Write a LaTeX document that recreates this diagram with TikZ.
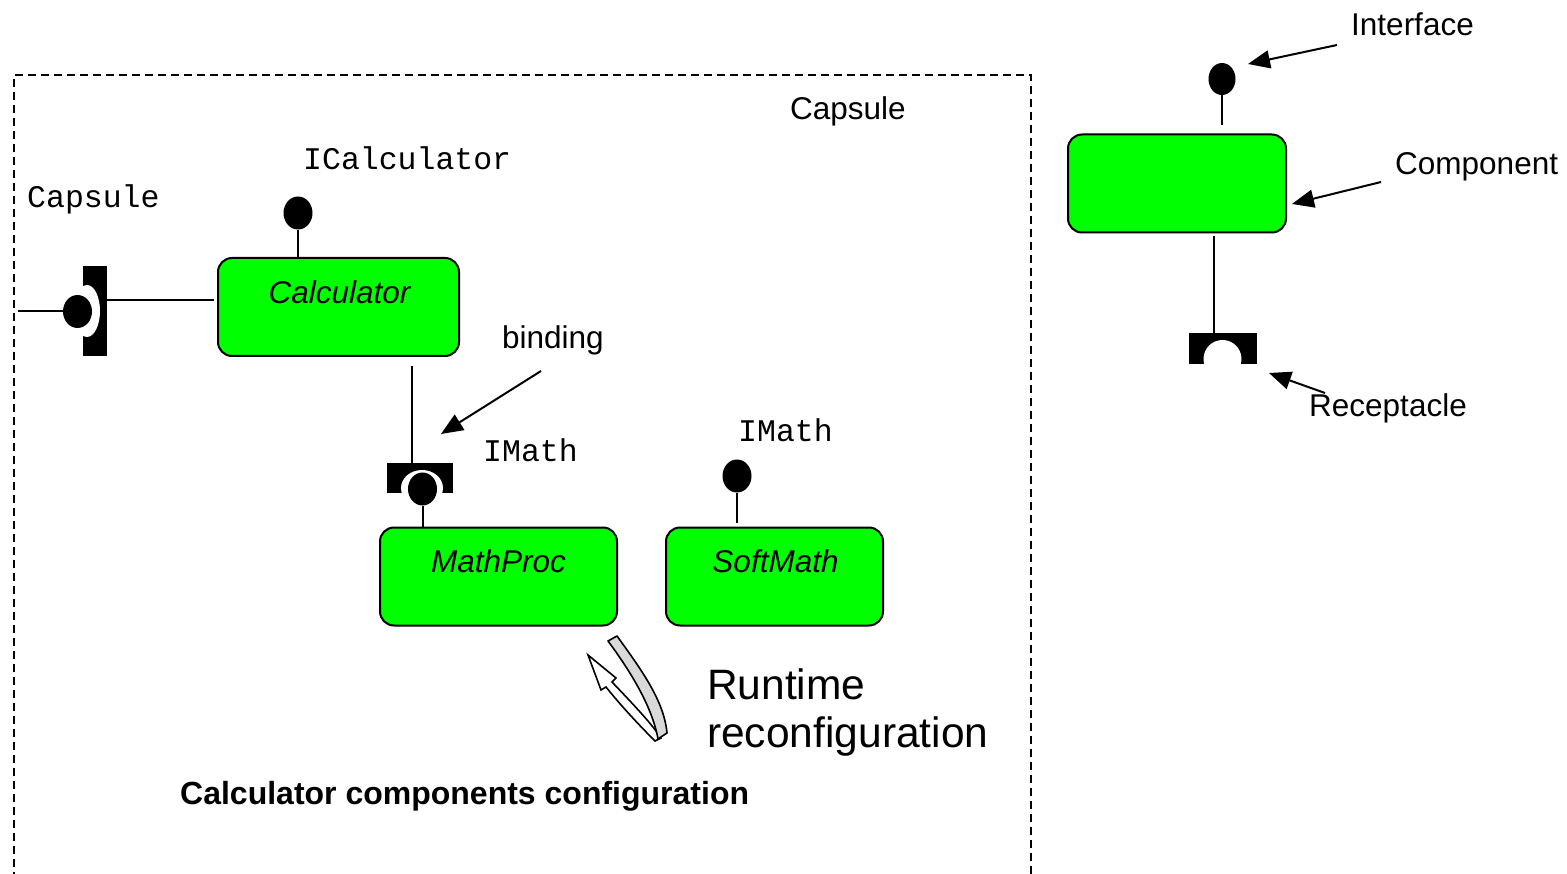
\documentclass[tikz,border=0pt]{standalone}
\usepackage{fontspec}
\setmainfont{Liberation Sans}
\setmonofont{Liberation Mono}
\usetikzlibrary{arrows.meta,shapes.geometric}

\definecolor{compgreen}{HTML}{00FF00}
\definecolor{bandgray}{HTML}{D9D9D9}

\tikzset{
  comp/.style={draw=black, line width=2pt, fill=compgreen, rounded corners=14pt,
    minimum width=#1, minimum height=98pt, inner sep=0pt},
  ball/.style={ellipse, fill=black, inner sep=0pt, minimum width=29pt, minimum height=33pt},
  sock/.style={fill=black, inner sep=0pt},
  wire/.style={line width=2pt},
  pointer/.style={line width=2pt, -{Triangle[length=22pt,width=18pt]}},
  sanslbl/.style={font=\fontsize{31.5}{36}\selectfont, inner sep=0pt, anchor=base west},
  monolbl/.style={font=\ttfamily\fontsize{31.5}{36}\selectfont, inner sep=0pt, anchor=base west},
  complbl/.style={font=\itshape\fontsize{31.5}{36}\selectfont, inner sep=0pt, anchor=base},
}

\begin{document}
\begin{tikzpicture}[x=1pt, y=-1pt]
\useasboundingbox (0,0) rectangle (1567,874);

% capsule boundary (open at the bottom)
\draw[line width=2pt, dash pattern=on 8pt off 5pt]
  (14,880) -- (14,75) -- (1031,75) -- (1031,880);

% components
\node[comp=241pt] (calc) at (338.5,307) {};
\node[comp=237pt] (mathproc) at (498.5,576.5) {};
\node[comp=217pt] (softmath) at (774.5,576.5) {};
\node[comp=218pt] (legcomp) at (1177,183.5) {};

\node[complbl] (calcT) at (339.5,304) {Calculator};
\node[complbl] (mathprocT) at (498.5,572) {MathProc};
\node[complbl] (softmathT) at (775.5,572) {SoftMath};

% ICalculator interface
\node[ball] (icalc) at (298,213) {};
\draw[wire] (icalc.south) -- (icalc.south |- calc.north);

% capsule receptacle on the left boundary
\node[sock, minimum width=24pt, minimum height=90pt] (capsock) at (95,311) {};
\begin{scope}
  \clip (capsock.south west) rectangle (capsock.north east);
  \fill[white] (87,311) ellipse [x radius=13pt, y radius=26pt];
\end{scope}
\node[ball] (capball) at (77.5,311.5) {};
\coordinate (capin) at (18,311.5);
\draw[wire] (capin) -- (capball.west);
\coordinate (calcin) at (214,300);
\draw[wire] (capsock.east |- calcin) -- (calcin);
\node[monolbl] (capT) at (27,208) {Capsule};
\node[monolbl] (icalcT) at (303,170) {ICalculator};

% binding between Calculator and MathProc
\node[sock, minimum width=66pt, minimum height=30pt] (bindsock) at (420,478) {};
\begin{scope}
  \clip (bindsock.south west) rectangle (bindsock.north east);
  \fill[white] (422,488) ellipse [x radius=21pt, y radius=18pt];
\end{scope}
\node[ball] (imball) at (422.5,489) {};
\coordinate (calcout) at (412,366);
\draw[wire] (calcout) -- (calcout |- bindsock.north);
\draw[wire] (imball.south) -- (imball.south |- mathproc.north);
\node[monolbl] (imathT) at (483,461) {IMath};

\node[sanslbl] (bindT) at (502,349) {binding};
\coordinate (bindtail) at (541,371);
\coordinate (bindtip) at (441,434);
\draw[pointer] (bindtail) -- (bindtip);

% SoftMath interface
\node[ball] (smball) at (737,476) {};
\draw[wire] (smball.south) -- ++(0,30);
\node[monolbl] (smT) at (738,442) {IMath};

% runtime reconfiguration arrow
\draw[line width=1.6pt, fill=white, line join=miter]
  (588,655) -- (616,678) -- (612,682)
  .. controls (632,703) and (652,724) .. (661,738)
  -- (655,741)
  .. controls (640,726) and (622,707) .. (606,687)
  -- (601,690) -- cycle;
\draw[line width=1.6pt, fill=bandgray, line join=round]
  (608,641) .. controls (628,668) and (652,705) .. (658,739)
  -- (667,733)
  .. controls (664,700) and (640,668) .. (617,636) -- cycle;
\node[sanslbl, font=\fontsize{42.5}{48}\selectfont] (rt1) at (707,699) {Runtime};
\node[sanslbl, font=\fontsize{42.5}{48}\selectfont] (rt2) at (707,747) {reconfiguration};

\node[sanslbl] (capsT) at (790,120) {Capsule};
\node[sanslbl, font=\bfseries\fontsize{32}{36}\selectfont] (cfgT) at (180,804) {Calculator components configuration};

% legend
\node[ball, minimum width=27pt, minimum height=32pt] (legball) at (1222,79) {};
\draw[wire] (legball.south) -- ++(0,30);
\node[sanslbl] (ifT) at (1351,36) {Interface};
\coordinate (iftail) at (1337,45);
\coordinate (iftip) at (1248,64);
\draw[pointer] (iftail) -- (iftip);

\node[sanslbl] (compT) at (1395,175) {Component};
\coordinate (comptail) at (1381,182);
\coordinate (comptip) at (1292,204);
\draw[pointer] (comptail) -- (comptip);

\node[sock, minimum width=68pt, minimum height=31pt] (legsock) at (1223,348.5) {};
\begin{scope}
  \clip (legsock.south west) rectangle (legsock.north east);
  \fill[white] (1222.5,359) ellipse [x radius=19pt, y radius=19pt];
\end{scope}
\coordinate (legout) at (1214,236);
\draw[wire] (legout) -- (legout |- legsock.north);
\node[sanslbl] (recT) at (1309,417) {Receptacle};
\coordinate (rectail) at (1325,393);
\coordinate (rectip) at (1269,373);
\draw[pointer] (rectail) -- (rectip);
\end{tikzpicture}
\end{document}
